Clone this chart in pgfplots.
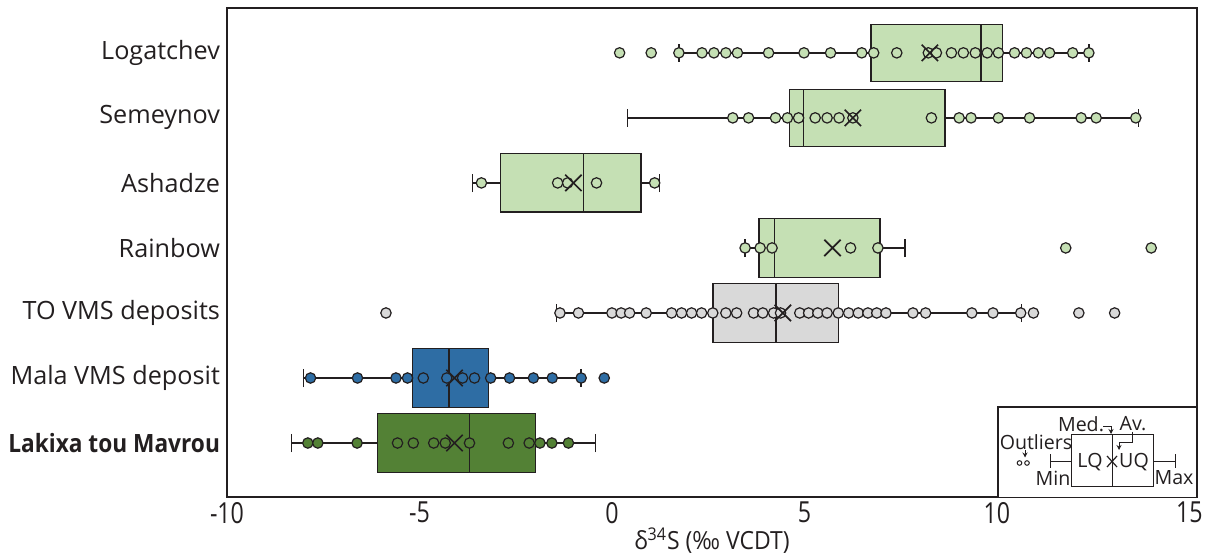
\documentclass[border=0pt]{standalone}
\usepackage{pgfplots}
\pgfplotsset{compat=1.18}
\usepgfplotslibrary{statistics}
\usetikzlibrary{arrows.meta}
\usepackage{graphicx}
\usepackage{fontspec}
\setmainfont{Open Sans}
\definecolor{lg}{HTML}{C5E0B4}
\definecolor{gr}{HTML}{D9D9D9}
\definecolor{bl}{HTML}{2E6DA4}
\definecolor{dg}{HTML}{538135}
\definecolor{ln}{HTML}{231F20}
\pgfplotsset{
  pts/.style={only marks, mark=*, mark size=2.6pt, mark options={draw=ln, line width=0.6pt, fill=#1}},
  mn/.style={only marks, mark=x, mark size=5.8pt, mark options={draw=ln, line width=0.85pt}},
  bx/.style={draw=ln, line width=0.7pt, fill=#1},
}
\begin{document}
\begin{tikzpicture}
\begin{axis}[
  at={(0,0)}, anchor=south west,
  scale only axis, width=485pt, height=244.5pt,
  xmin=-10, xmax=15.2, ymin=-0.83, ymax=6.69,
  axis line style={line width=1pt, draw=ln},
  xtick={-10,-5,0,5,10,15}, ytick={0,1,2,3,4,5,6},
  yticklabels={{\scalebox{0.9}[1]{\bfseries Lakixa tou Mavrou}}, Mala VMS deposit, TO VMS deposits, Rainbow, Ashadze, Semeynov, Logatchev},
  major tick length=0pt,
  /pgf/number format/assume math mode=true,
  xticklabel style={font=\fontsize{14.5}{14.5}\selectfont, xscale=0.8, text=ln, yshift=1pt},
  yticklabel style={font=\fontsize{12.6}{14}\selectfont, text=ln},
  xlabel={δ\textsuperscript{34}S (‰ VCDT)},
  xlabel style={font=\fontsize{12.5}{13}\selectfont, xscale=0.92, text=ln, yshift=4.5pt},
  boxplot/draw direction=x,
  clip=false,
]
% Logatchev
\addplot[bx=lg, boxplot prepared={draw position=6, lower whisker=1.74, lower quartile=6.73, median=9.59, upper quartile=10.15, upper whisker=12.39, box extend=0.88, whisker extend=0.28}] coordinates {};
\addplot[pts=lg] coordinates {(0.2,6)(1.02,6)(1.74,6)(2.34,6)(2.65,6)(2.96,6)(3.26,6)(4.07,6)(4.99,6)(5.68,6)(6.49,6)(6.80,6)(7.40,6)(8.22,6)(8.43,6)(8.82,6)(9.13,6)(9.44,6)(9.75,6)(10.04,6)(10.46,6)(10.77,6)(11.08,6)(11.37,6)(11.97,6)(12.39,6)};
\addplot[mn] coordinates {(8.26,6)};
% Semeynov
\addplot[bx=lg, boxplot prepared={draw position=5, lower whisker=0.41, lower quartile=4.61, median=4.98, upper quartile=8.65, upper whisker=13.68, box extend=0.88, whisker extend=0.28}] coordinates {};
\addplot[pts=lg] coordinates {(3.14,5)(3.55,5)(4.25,5)(4.56,5)(4.85,5)(5.28,5)(5.59,5)(5.90,5)(6.26,5)(8.30,5)(9.02,5)(9.33,5)(10.04,5)(10.85,5)(12.19,5)(12.58,5)(13.61,5)};
\addplot[mn] coordinates {(6.26,5)};
% Ashadze
\addplot[bx=lg, boxplot prepared={draw position=4, lower whisker=-3.62, lower quartile=-2.89, median=-0.74, upper quartile=0.76, upper whisker=1.24, box extend=0.9, whisker extend=0.28}] coordinates {};
\addplot[pts=lg] coordinates {(-3.39,4)(-1.41,4)(-1.15,4)(-0.40,4)(1.11,4)};
\addplot[mn] coordinates {(-1.00,4)};
% Rainbow
\addplot[bx=lg, boxplot prepared={draw position=3, lower whisker=3.46, lower quartile=3.82, median=4.22, upper quartile=6.96, upper whisker=7.61, box extend=0.9, whisker extend=0.28}] coordinates {};
\addplot[pts=lg] coordinates {(3.46,3)(3.85,3)(4.16,3)(6.20,3)(6.91,3)(11.79,3)(14.01,3)};
\addplot[mn] coordinates {(5.73,3)};
% TO VMS
\addplot[bx=gr, boxplot prepared={draw position=2, lower whisker=-1.44, lower quartile=2.63, median=4.26, upper quartile=5.88, upper whisker=10.64, box extend=0.9, whisker extend=0.28}] coordinates {};
\addplot[pts=gr] coordinates {(-5.87,2)(-1.35,2)(-0.87,2)(0.00,2)(0.24,2)(0.46,2)(0.89,2)(1.55,2)(1.81,2)(2.07,2)(2.33,2)(2.62,2)(2.96,2)(3.24,2)(3.68,2)(3.92,2)(4.20,2)(4.38,2)(4.88,2)(5.11,2)(5.35,2)(5.59,2)(5.88,2)(6.15,2)(6.40,2)(6.65,2)(6.88,2)(7.12,2)(7.82,2)(8.15,2)(9.35,2)(9.90,2)(10.62,2)(10.95,2)(12.13,2)(13.06,2)};
\addplot[mn] coordinates {(4.44,2)};
% Mala
\addplot[bx=bl, boxplot prepared={draw position=1, lower whisker=-8.02, lower quartile=-5.18, median=-4.23, upper quartile=-3.20, upper whisker=-0.80, box extend=0.9, whisker extend=0.28}] coordinates {};
\addplot[pts=bl] coordinates {(-7.83,1)(-6.61,1)(-5.61,1)(-5.31,1)(-4.90,1)(-4.29,1)(-3.88,1)(-3.57,1)(-3.15,1)(-2.66,1)(-2.04,1)(-1.55,1)(-0.80,1)(-0.20,1)};
\addplot[mn] coordinates {(-4.09,1)};
% Lakixa
\addplot[bx=dg, boxplot prepared={draw position=0, lower whisker=-8.32, lower quartile=-6.09, median=-3.70, upper quartile=-1.98, upper whisker=-0.43, box extend=0.9, whisker extend=0.28}] coordinates {};
\addplot[pts=dg] coordinates {(-7.90,0)(-7.64,0)(-6.62,0)(-5.57,0)(-5.16,0)(-4.63,0)(-4.33,0)(-3.70,0)(-2.69,0)(-2.15,0)(-1.87,0)(-1.56,0)(-1.13,0)};
\addplot[mn] coordinates {(-4.09,0)};
\end{axis}
\begin{scope}[x=0.5pt, y=-0.5pt, shift={(-113.5pt,248.5pt)}, ln, line width=0.5pt]
  \fill[white] (998,407) rectangle (1197,497);
  \draw[line width=1pt] (998,497) -- (998,407) -- (1197,407) -- (1197,497);
  \draw (1071,435) rectangle (1153,487);
  \draw (1112,435) -- (1112,487);
  \draw (1050.7,461.5) -- (1071,461.5);
  \draw (1050.7,454.5) -- (1050.7,468.5);
  \draw (1153,461.5) -- (1175,461.5);
  \draw (1175,454.5) -- (1175,468.5);
  \draw[line width=0.6pt] (1107,456) -- (1117,467) (1107,467) -- (1117,456);
  \draw (1019.5,463) circle (2.3);
  \draw (1027,463) circle (2.3);
  \begin{scope}[font=\fontsize{9.8}{10}\selectfont, inner sep=0pt]
    \node at (1090,462) {LQ};
    \node at (1134,462) {UQ};
    \node at (1053,478) {Min};
    \node at (1174,478) {Max};
    \node at (1036,442) {Outliers};
    \node at (1081,424) {Med.};
    \node at (1133,424) {Av.};
  \end{scope}
  \draw[-{Stealth[length=2.5pt,width=2.5pt]}] (1025,450) -- (1025,457.5);
  \draw[-{Stealth[length=2.5pt,width=2.5pt]}] (1103,427) -- (1111,427) -- (1111,434);
  \draw[-{Stealth[length=2.5pt,width=2.5pt]}] (1132,432) -- (1132,443) -- (1119,443) -- (1119,450);
  \pgfresetboundingbox
  \useasboundingbox (0,0) rectangle (1214,560);
\end{scope}
\end{tikzpicture}
\end{document}
